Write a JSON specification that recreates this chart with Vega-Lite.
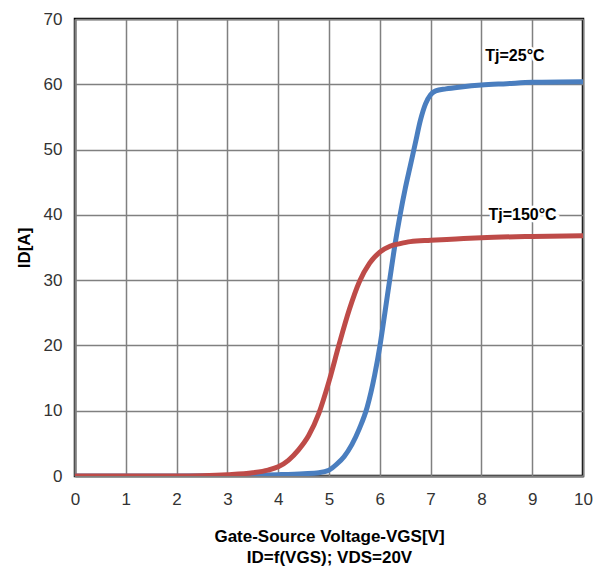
{
  "$schema": "https://vega.github.io/schema/vega-lite/v6.json",
  "autosize": {"type": "none"},
  "padding": {"left": 75, "top": 19, "right": 17, "bottom": 95},
  "width": 508,
  "height": 457,
  "background": "white",
  "config": {
    "font": "Liberation Sans",
    "view": {"stroke": "black", "strokeWidth": 2.5}
  },
  "datasets": {
    "curves": [
      {"series": "25", "vgs": 0, "id": 0},
      {"series": "25", "vgs": 1, "id": 0},
      {"series": "25", "vgs": 2, "id": 0},
      {"series": "25", "vgs": 3, "id": 0.05},
      {"series": "25", "vgs": 3.5, "id": 0.1},
      {"series": "25", "vgs": 4, "id": 0.2},
      {"series": "25", "vgs": 4.5, "id": 0.35},
      {"series": "25", "vgs": 4.8, "id": 0.5},
      {"series": "25", "vgs": 5.0, "id": 0.9},
      {"series": "25", "vgs": 5.15, "id": 1.8},
      {"series": "25", "vgs": 5.3, "id": 3},
      {"series": "25", "vgs": 5.45, "id": 4.8},
      {"series": "25", "vgs": 5.6, "id": 7.3},
      {"series": "25", "vgs": 5.75, "id": 10.5},
      {"series": "25", "vgs": 5.9, "id": 15.5},
      {"series": "25", "vgs": 6.0, "id": 19.8},
      {"series": "25", "vgs": 6.1, "id": 25},
      {"series": "25", "vgs": 6.2, "id": 30.3},
      {"series": "25", "vgs": 6.3, "id": 35.5},
      {"series": "25", "vgs": 6.4, "id": 40},
      {"series": "25", "vgs": 6.5, "id": 44},
      {"series": "25", "vgs": 6.6, "id": 47.5},
      {"series": "25", "vgs": 6.7, "id": 51},
      {"series": "25", "vgs": 6.8, "id": 54.5},
      {"series": "25", "vgs": 6.9, "id": 57},
      {"series": "25", "vgs": 7.0, "id": 58.4},
      {"series": "25", "vgs": 7.1, "id": 59},
      {"series": "25", "vgs": 7.3, "id": 59.3},
      {"series": "25", "vgs": 7.6, "id": 59.6},
      {"series": "25", "vgs": 8, "id": 59.9},
      {"series": "25", "vgs": 8.5, "id": 60.1},
      {"series": "25", "vgs": 9, "id": 60.3},
      {"series": "25", "vgs": 10, "id": 60.4},
      {"series": "150", "vgs": 0, "id": 0},
      {"series": "150", "vgs": 1, "id": 0},
      {"series": "150", "vgs": 2, "id": 0},
      {"series": "150", "vgs": 2.5, "id": 0.05},
      {"series": "150", "vgs": 3, "id": 0.2},
      {"series": "150", "vgs": 3.5, "id": 0.5},
      {"series": "150", "vgs": 3.8, "id": 0.9},
      {"series": "150", "vgs": 4.0, "id": 1.4},
      {"series": "150", "vgs": 4.2, "id": 2.4},
      {"series": "150", "vgs": 4.4, "id": 4},
      {"series": "150", "vgs": 4.6, "id": 6.2},
      {"series": "150", "vgs": 4.8, "id": 9.6},
      {"series": "150", "vgs": 5.0, "id": 14.5},
      {"series": "150", "vgs": 5.2, "id": 20.2},
      {"series": "150", "vgs": 5.4, "id": 25.5},
      {"series": "150", "vgs": 5.6, "id": 29.8},
      {"series": "150", "vgs": 5.8, "id": 32.6},
      {"series": "150", "vgs": 6.0, "id": 34.3},
      {"series": "150", "vgs": 6.2, "id": 35.2},
      {"series": "150", "vgs": 6.4, "id": 35.6},
      {"series": "150", "vgs": 6.6, "id": 35.9},
      {"series": "150", "vgs": 7, "id": 36.1},
      {"series": "150", "vgs": 7.5, "id": 36.3},
      {"series": "150", "vgs": 8, "id": 36.5},
      {"series": "150", "vgs": 9, "id": 36.7},
      {"series": "150", "vgs": 10, "id": 36.8}
    ],
    "labels": [
      {"label": "Tj=25°C", "vgs": 8.66, "id": 64.3},
      {"label": "Tj=150°C", "vgs": 8.81, "id": 40.0}
    ]
  },
  "layer": [
    {
      "data": {"name": "curves"},
      "mark": {"type": "line", "strokeWidth": 5, "interpolate": "monotone", "clip": true},
      "encoding": {
        "x": {
          "field": "vgs", "type": "quantitative",
          "scale": {"domain": [0, 10], "nice": false},
          "axis": {
            "values": [0,1,2,3,4,5,6,7,8,9,10],
            "title": ["Gate-Source Voltage-VGS[V]", "ID=f(VGS); VDS=20V"],
            "titleFontSize": 17, "titleFontWeight": "bold", "titleColor": "black",
            "titleLineHeight": 21, "titlePadding": 21,
            "labelFontSize": 17, "labelColor": "#333", "labelPadding": 15, "labelFlush": false,
            "ticks": false, "domainColor": "#808080", "domainWidth": 2,
            "grid": true, "gridColor": "#808080", "gridWidth": 1.5, "gridOpacity": 1
          }
        },
        "y": {
          "field": "id", "type": "quantitative",
          "scale": {"domain": [0, 70], "nice": false},
          "axis": {
            "values": [0,10,20,30,40,50,60,70],
            "title": "ID[A]",
            "titleFontSize": 17, "titleFontWeight": "bold", "titleColor": "black",
            "titlePadding": 10,
            "labelFontSize": 17, "labelColor": "#333", "labelPadding": 13, "labelFlush": false,
            "ticks": false, "domainColor": "#808080", "domainWidth": 2,
            "grid": true, "gridColor": "#808080", "gridWidth": 1.5, "gridOpacity": 1
          }
        },
        "color": {
          "field": "series", "type": "nominal",
          "scale": {"domain": ["25", "150"], "range": ["#4A7EBF", "#BE4B48"]},
          "legend": null
        },
        "order": {"field": "vgs", "type": "quantitative"}
      }
    },
    {
      "data": {"name": "labels"},
      "mark": {"type": "text", "fontSize": 16, "fontWeight": "bold", "stroke": "white", "strokeWidth": 5, "fill": "white", "align": "center", "baseline": "middle"},
      "encoding": {
        "x": {"field": "vgs", "type": "quantitative"},
        "y": {"field": "id", "type": "quantitative"},
        "text": {"field": "label"}
      }
    },
    {
      "data": {"name": "labels"},
      "mark": {"type": "text", "fontSize": 16, "fontWeight": "bold", "fill": "black", "align": "center", "baseline": "middle"},
      "encoding": {
        "x": {"field": "vgs", "type": "quantitative"},
        "y": {"field": "id", "type": "quantitative"},
        "text": {"field": "label"}
      }
    }
  ]
}
